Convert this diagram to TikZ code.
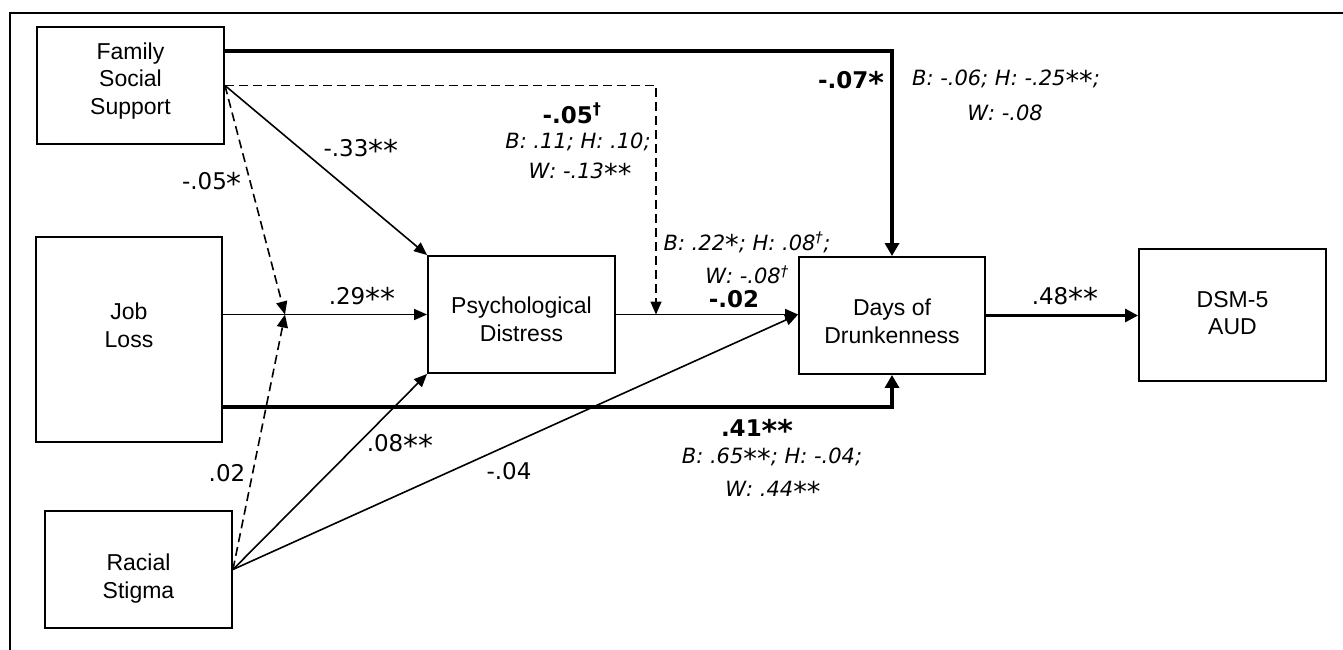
\documentclass[tikz,border=0pt]{standalone}
\usepackage{fontspec}
\setmainfont{Liberation Sans}
\newfontfamily\labfont{DejaVu Sans}
\usetikzlibrary{arrows.meta}
\newcommand\boxtext[2]{\raisebox{#1}[0pt][0pt]{\begin{tabular}{@{}c@{}}#2\end{tabular}}}
\newcommand\st{\raisebox{-0.2em}{\scalebox{1.3}{*}}}
\begin{document}
\begin{tikzpicture}[x=1pt,y=-1pt,
  box/.style={draw, line width=1.9pt, inner sep=0pt, font=\fontsize{23}{27.5}\selectfont},
  lbl/.style={inner sep=0pt, font=\labfont\fontsize{23}{27}\selectfont},
  lbb/.style={inner sep=0pt, font=\labfont\bfseries\fontsize{23}{27}\selectfont},
  lbi/.style={inner sep=0pt, font=\labfont\itshape\fontsize{21}{25}\selectfont},
  thinarrow/.style={line width=1.6pt, -{Triangle[length=13pt,width=11pt]}},
  dasharrow/.style={line width=1.6pt, dash pattern=on 9pt off 5pt, -{Triangle[length=13pt,width=11pt]}},
  thickarrow/.style={line width=4pt, -{Triangle[length=13pt,width=14pt]}},
  medarrow/.style={line width=3pt, -{Triangle[length=13pt,width=13pt]}}]
\useasboundingbox (0,0) rectangle (1343,650);
\fill[white] (0,0) rectangle (1343,650);
\draw[line width=1.8pt] (10,650) -- (10,13) -- (1343,13);

% boxes
\node[box, minimum width=187pt, minimum height=117pt] (fam) at (130.5,85.5) {\boxtext{-1.75pt}{Family\\Social\\Support}};
\node[box, minimum width=186pt, minimum height=205pt] (job) at (129,339.5) {\boxtext{5.25pt}{Job\\Loss}};
\node[box, minimum width=187pt, minimum height=117pt] (rac) at (138.5,569.5) {\boxtext{-15.75pt}{Racial\\Stigma}};
\node[box, minimum width=187pt, minimum height=117pt] (psy) at (521.5,314.5) {\boxtext{-13.75pt}{Psychological\\Distress}};
\node[box, minimum width=186pt, minimum height=117pt] (days) at (892,315.5) {\boxtext{-14.75pt}{Days of\\Drunkenness}};
\node[box, minimum width=187pt, minimum height=132pt] (dsm) at (1232.5,315) {\boxtext{-6.75pt}{DSM-5\\AUD}};

% helper coordinates
\coordinate (jstart) at (job.east |- psy.west);
\coordinate (m2) at (285,314.5);
\coordinate (m1) at (656,314.5);

% connectors
\draw[thickarrow] ([yshift=-25pt]fam.north east) -| (days.north);
\draw[thickarrow] ([yshift=-67.5pt]job.east) -| (days.south);
\draw[medarrow] (days.east) -- (days.east -| dsm.west);
\draw[thinarrow] (jstart) -- (psy.west);
\draw[thinarrow] (psy.east) -- (psy.east -| days.west);
\draw[thinarrow] (fam.east) -- (psy.north west);
\draw[thinarrow] (rac.east) -- (psy.south west);
\draw[thinarrow] (rac.east) -- (psy.east -| days.west);
\draw[dasharrow] (fam.east) -| (m1);
\draw[dasharrow] (fam.east) -- (m2);
\draw[dasharrow] (rac.east) -- (m2);

% labels
\node[lbl] (l33) at (361,150) {-.33\st\st};
\node[lbl] (l05) at (212,183) {-.05\st};
\node[lbl] (l29) at (362,298) {.29\st\st};
\node[lbl] (l02) at (227,473) {.02};
\node[lbl] (l08) at (400,445) {.08\st\st};
\node[lbl] (l04) at (509,471) {-.04};
\node[lbl] (l48) at (1065,298) {.48\st\st};

\node[lbb] (l41) at (757,430) {.41\st\st};
\node[lbi] (l41b) at (772,458) {B: .65\st\st; H: -.04;};
\node[lbi] (l41c) at (773,491) {W: .44\st\st};

\node[lbb] (lm05) at (572,113) {-.05\textsuperscript{†}};
\node[lbi] (lm05b) at (578,142) {B: .11; H: .10;};
\node[lbi] (lm05c) at (580,173) {W: -.13\st\st};

\node[lbi] (l22) at (747,243) {B: .22\st; H: .08\textsuperscript{†};};
\node[lbi] (l22b) at (747,275) {W: -.08\textsuperscript{†}};
\node[lbb] (l02b) at (734,299) {-.02};

\node[lbb] (l07) at (851,82) {-.07\st};
\node[lbi] (l07b) at (1006,80) {B: -.06; H: -.25\st\st;};
\node[lbi] (l07c) at (1005,113) {W: -.08};
\end{tikzpicture}
\end{document}
